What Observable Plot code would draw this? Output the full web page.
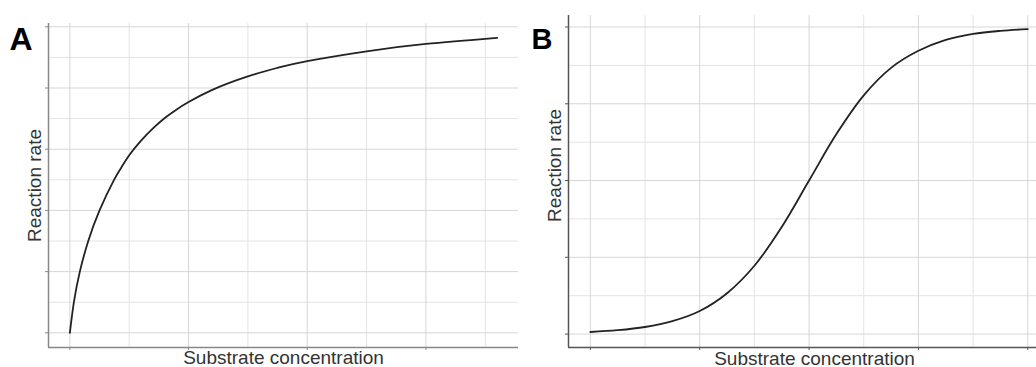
<!DOCTYPE html>
<html>
<head>
<meta charset="utf-8">
<script src="https://cdn.jsdelivr.net/npm/d3@7"></script>
<script src="https://cdn.jsdelivr.net/npm/@observablehq/plot@0.6"></script>
<style>
  html, body { margin: 0; padding: 0; background: #fff; overflow: hidden; }
  #wrap { position: relative; width: 1036px; height: 367px; }
  #wrap > div { position: absolute; top: 0; }
  #a { left: 0; }
  #b { left: 520px; }
</style>
</head>
<body>
<div id="wrap"><div id="a"></div><div id="b"></div></div>
<script>
// ---- Panel A: Michaelis–Menten (hyperbolic) ----
const concA = [0, 0.034, 0.084, 0.155, 0.25, 0.37, 0.43, 0.5, 0.6, 0.7, 0.8, 0.9, 1.0, 1.2, 1.5, 1.75, 2.0, 2.5, 3.0, 3.6];
const rateA = [0, 0.5, 1.0, 1.5, 2.0, 2.49, 2.69, 2.90, 3.14, 3.34, 3.51, 3.65, 3.77, 3.97, 4.19, 4.33, 4.44, 4.60, 4.72, 4.82];
const xMajorA = [0, 1, 2, 3];
const xMinorA = [0.5, 1.5, 2.5, 3.5];
const yMajorA = [0, 1, 2, 3, 4, 5];
const yMinorA = [0.5, 1.5, 2.5, 3.5, 4.5];

// ---- Panel B: sigmoidal (allosteric) ----
const concB = [0, 0.25, 0.5, 0.75, 1, 1.25, 1.5, 1.75, 2, 2.25, 2.5, 2.75, 3, 3.25, 3.5, 3.75, 4];
const rateB = [0.027, 0.05, 0.092, 0.168, 0.30, 0.532, 0.89, 1.395, 2.0, 2.605, 3.11, 3.468, 3.69, 3.832, 3.91, 3.95, 3.973];
const xMajorB = [0, 1, 2, 3, 4];
const xMinorB = [0.5, 1.5, 2.5, 3.5];
const yMajorB = [0, 1, 2, 3, 4];
const yMinorB = [0.5, 1.5, 2.5, 3.5];

const xLabel = "Substrate concentration";
const yLabel = "Reaction rate";
const panelLabels = ["A", "B"];

const FONT = "'Liberation Sans', Arial, sans-serif";
const textColor = "#333";

function panel(cfg) {
  const data = cfg.xs.map((x, i) => ({x, y: cfg.ys[i]}));
  return Plot.plot({
    width: cfg.width,
    height: 367,
    marginLeft: 48,
    marginRight: cfg.marginRight,
    marginTop: cfg.marginTop,
    marginBottom: cfg.marginBottom,
    style: {fontFamily: FONT, background: "transparent", overflow: "visible"},
    x: {domain: cfg.xDomain, axis: null},
    y: {domain: cfg.yDomain, axis: null},
    marks: [
      Plot.ruleX(cfg.xMinor, {stroke: "#e4e4e4", strokeWidth: 1}),
      Plot.ruleY(cfg.yMinor, {stroke: "#e4e4e4", strokeWidth: 1}),
      Plot.ruleX(cfg.xMajor, {stroke: "#d6d6d6", strokeWidth: 1}),
      Plot.ruleY(cfg.yMajor, {stroke: "#d6d6d6", strokeWidth: 1}),
      Plot.axisX({ticks: cfg.xMajor, tickFormat: () => "", tickSize: 3, stroke: cfg.axisColor, label: null}),
      Plot.axisY({ticks: cfg.yMajor, tickFormat: () => "", tickSize: 3, stroke: cfg.axisColor, label: null}),
      Plot.ruleX([cfg.xDomain[0]], {stroke: cfg.axisColor, strokeWidth: 1.5}),
      Plot.ruleY([cfg.yDomain[0]], {stroke: cfg.axisColor, strokeWidth: 1.5}),
      Plot.line(data, {x: "x", y: "y", curve: cfg.curve, stroke: "#222", strokeWidth: 1.8}),
      Plot.text([xLabel], {frameAnchor: "bottom", textAnchor: "middle", lineAnchor: "top",
        dx: cfg.xLabelDx, dy: cfg.xLabelDy, fontSize: 19, fill: textColor}),
      Plot.text([yLabel], {frameAnchor: "left", textAnchor: "middle", lineAnchor: "middle", rotate: -90,
        dx: -14, dy: cfg.yLabelDy, fontSize: 19, fill: textColor}),
      Plot.text([cfg.letter], {frameAnchor: "top-left", textAnchor: "start", lineAnchor: "top",
        dx: cfg.letterDx, dy: cfg.letterDy, fontSize: cfg.letterSize, fontWeight: "bold", fill: "#000"})
    ]
  });
}

document.getElementById("a").appendChild(panel({
  width: 520, marginRight: 2, marginTop: 23, marginBottom: 20,
  xDomain: [-0.18, 3.78], yDomain: [-0.24, 5.054],
  xs: concA, ys: rateA, curve: "natural",
  xMajor: xMajorA, xMinor: xMinorA, yMajor: yMajorA, yMinor: yMinorA,
  axisColor: "#888", xLabelDx: 0, xLabelDy: 3, yLabelDy: 0,
  letter: panelLabels[0], letterSize: 32, letterDx: -39, letterDy: 4
}));

document.getElementById("b").appendChild(panel({
  width: 516, marginRight: 0, marginTop: 15, marginBottom: 20,
  xDomain: [-0.2, 4.08], yDomain: [-0.175, 4.15],
  xs: concB, ys: rateB, curve: "catmull-rom",
  xMajor: xMajorB, xMinor: xMinorB, yMajor: yMajorB, yMinor: yMinorB,
  axisColor: "#555", xLabelDx: 12, xLabelDy: 4, yLabelDy: -16,
  letter: panelLabels[1], letterSize: 29, letterDx: -37, letterDy: 13
}));
</script>
</body>
</html>
